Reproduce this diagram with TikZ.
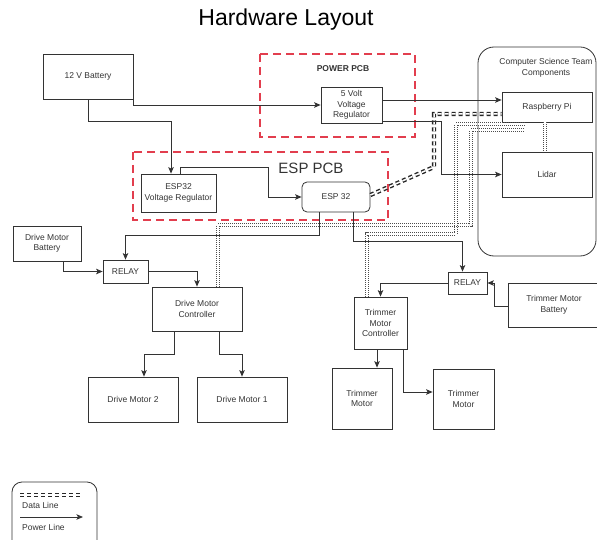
\documentclass[tikz,border=0pt]{standalone}
\usepackage{fontspec}
\setmainfont{Liberation Sans}
\usetikzlibrary{arrows.meta}
\definecolor{pcbred}{RGB}{226,62,78}
\definecolor{inkgray}{RGB}{51,51,51}

\begin{document}
\begin{tikzpicture}[x=1pt,y=-1pt,font=\fontsize{8.5}{10.5}\selectfont,>={Stealth[length=6.5pt,width=5.5pt,inset=1.5pt]}]

	\tikzset{
		blk/.style={draw=inkgray,line width=0.8pt,align=center,text=inkgray,inner sep=1pt},
		pcb/.style={draw=pcbred,line width=2.6pt,dash pattern=on 8pt off 5pt},
		group/.style={draw=inkgray,line width=0.8pt,rounded corners=16pt},
		pwr/.style={->,draw=inkgray,line width=0.8pt},
		dataline/.style={draw=black!85,line width=1.4pt,double=white,double distance=1.5pt,dash pattern=on 4pt off 3pt},
		databus/.style={draw=black!70,line width=0.7pt,double=white,double distance=2.3pt,dash pattern=on 1pt off 1pt},
	}

	% Macro: box from its corners
	% Arguments: [options], name, x1, y1, x2, y2, text
	\newcommand{\HWbox}[7][]{%
		\node[blk,#1,minimum width={#5-#3},minimum height={#6-#4}] (#2)
			at ({(#3+#5)/2},{(#4+#6)/2}) {#7};
	}

	\useasboundingbox (0,0) rectangle (597,540);
	\clip (0,0) rectangle (597,540);

	%========================================
	% Title and outlines
	%========================================
	\node[font=\fontsize{23}{26}\selectfont,text=black] (title) at (286,20) {Hardware Layout};

	% POWER PCB
	\draw[pcb] (260,54) rectangle (415,137);
	\node[font=\fontsize{8.5}{10}\selectfont\bfseries,text=inkgray] (powerlbl) at (343,69) {POWER PCB};

	% ESP PCB
	\draw[pcb] (133,152) rectangle (388,220);
	\node[font=\fontsize{15}{17}\selectfont,text=inkgray] (esplbl) at (311,168) {ESP PCB};

	% Computer Science Team group
	\draw[group] (478,47) rectangle (596,256);
	\node[text=inkgray,align=center] (cslbl) at (546,68) {Computer Science Team\\Components};

	%========================================
	% Boxes
	%========================================
	\HWbox{bat12}{43}{54}{133}{99}{12 V Battery}
	\HWbox{reg5}{321}{87}{382}{123}{5 Volt\\Voltage\\Regulator}
	\HWbox{espreg}{141}{174}{216}{212}{ESP32\\Voltage Regulator}
	\HWbox[rounded corners=5pt]{esp}{302}{182}{370}{212}{ESP 32}
	\HWbox{rpi}{502}{92}{592}{122}{Raspberry Pi}
	\HWbox{lidar}{502}{152}{592}{197}{Lidar}

	\HWbox{drvbat}{13}{226}{81}{261}{Drive Motor\\Battery}
	\HWbox{relayD}{103}{260}{148}{283}{RELAY}
	\HWbox{drvctl}{152}{287}{242}{331}{Drive Motor\\Controller}
	\HWbox{drvmotB}{88}{377}{178}{422}{Drive Motor 2}
	\HWbox{drvmotA}{197}{377}{287}{422}{Drive Motor 1}

	\HWbox{relayT}{448}{272}{487}{294}{RELAY}
	\HWbox{trmbat}{508}{283}{600}{327}{Trimmer Motor\\Battery}
	\HWbox{trmctl}{354}{297}{407}{349}{Trimmer\\Motor\\Controller}
	\HWbox{trmmotA}{332}{368}{392}{429}{Trimmer\\Motor}
	\HWbox{trmmotB}{433}{369}{494}{429}{Trimmer\\Motor}

	%========================================
	% Data lines
	%========================================
	\coordinate (busA) at (525,130);
	\coordinate (busB) at (525,124);

	% drive controller and trimmer controller to the Pi
	\draw[databus] (drvctl.north -| 218,0) -- (218,225) -- (471,225) -- (471,130) -- (busA);
	\draw[databus] (trmctl.north -| 367,0) -- (367,234) -- (456,234) -- (456,124) -- (busB);
	% Pi to Lidar
	\draw[databus] (rpi.south -| 545,0) -- (lidar.north -| 545,0);
	% ESP 32 to the Pi
	\draw[dataline] (esp.east |- 0,195) -- (434,167) -- (434,114) -- (rpi.west |- 0,114);

	%========================================
	% Power lines
	%========================================
	\draw[pwr] (bat12.south) -- ++(0,22) -| ([xshift=-7.5pt]espreg.north);
	\draw[pwr] (bat12.south east) |- (reg5.west);
	\draw[pwr] ([xshift=1.5pt]espreg.north) |- (268,167) |- (esp.west);

	\draw[pwr] (reg5.east |- 0,100) -- (rpi.west |- 0,100);
	\draw[pwr] (reg5.east |- 0,121) -- (441,121) |- (lidar.west);

	% ESP 32 to the relays
	\draw[pwr] (esp.south -| 319,0) -- (319,235) -| (relayD.north);
	\draw[pwr] (esp.south -| 353,0) -- (353,241) -| ([xshift=-5pt]relayT.north);

	% drive motors
	\draw[pwr] (drvbat.south -| 63,0) |- (relayD.west);
	\draw[pwr] (relayD.east) -| (drvctl.north);
	\draw[pwr] (drvctl.south -| 174,0) -- (174,354) -| ([xshift=11pt]drvmotB.north);
	\draw[pwr] (drvctl.south -| 219,0) -- (219,354) -| (drvmotA.north);

	% trimmer motors
	\draw[pwr] (trmbat.west |- 0,306) -- (494,306) |- (relayT.east);
	\draw[pwr] (relayT.west) -| (trmctl.north);
	\draw[pwr] (trmctl.south -| 377,0) -- (trmmotA.north -| 377,0);
	\draw[pwr] (trmctl.south -| 403,0) |- (trmmotB.west |- 0,392);

	%========================================
	% Legend
	%========================================
	\draw[group,rounded corners=10pt] (12,482) rectangle (97,552);
	\coordinate (legDa) at (20,495);
	\coordinate (legDb) at (82,495);
	\draw[dataline] (legDa) -- (legDb);
	\node[anchor=west,text=inkgray,inner sep=1pt] (legdata) at (21,505) {Data Line};
	\coordinate (legPa) at (20,517);
	\coordinate (legPb) at (83,517);
	\draw[pwr] (legPa) -- (legPb);
	\node[anchor=west,text=inkgray,inner sep=1pt] (legpwr) at (21,527) {Power Line};

\end{tikzpicture}
\end{document}
